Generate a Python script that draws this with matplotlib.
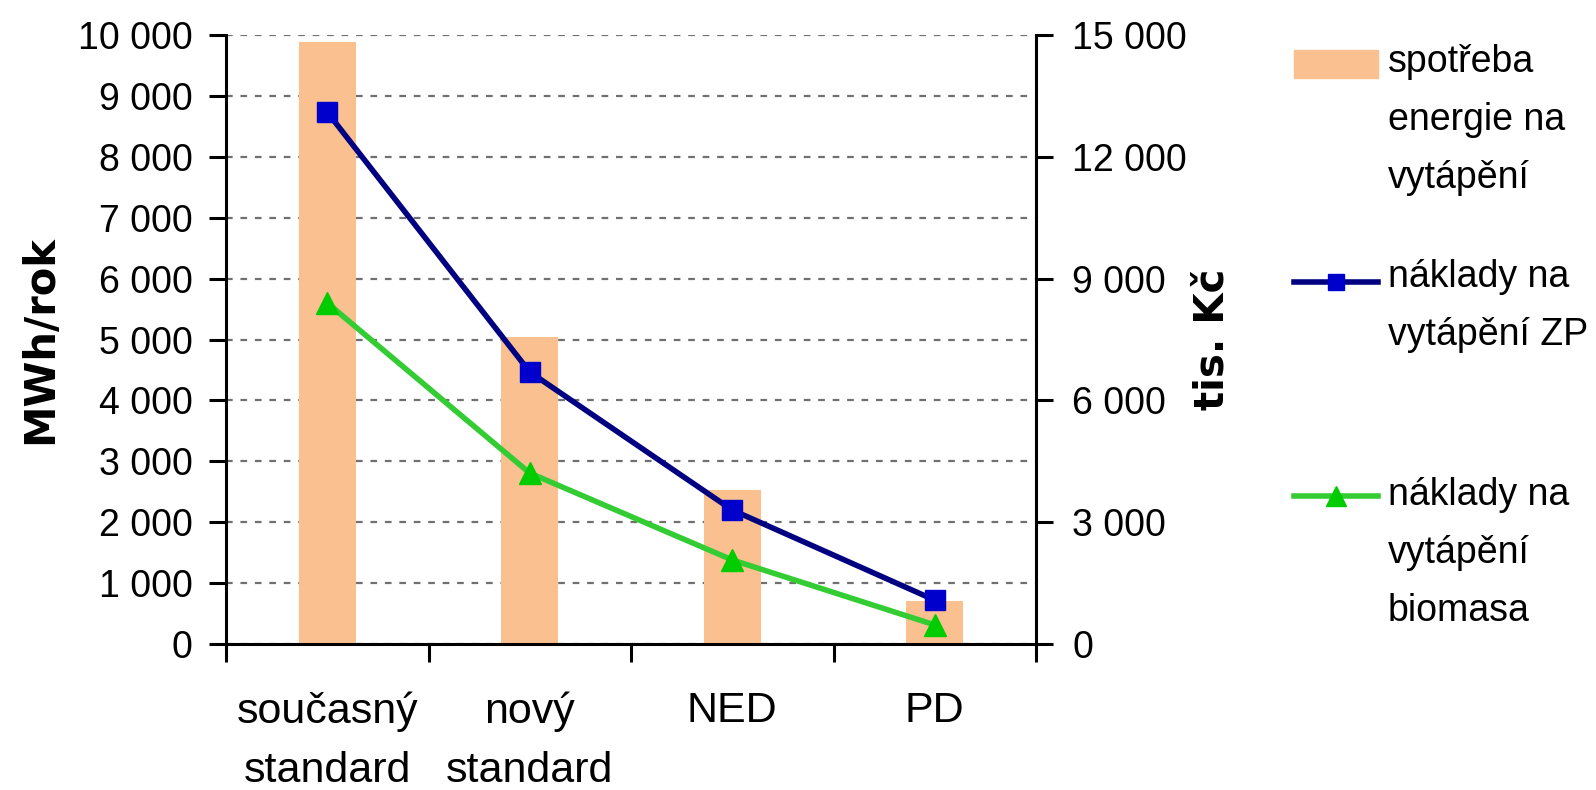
import matplotlib
matplotlib.use("Agg")
import matplotlib.pyplot as plt
from matplotlib.patches import Rectangle
from matplotlib.ticker import FuncFormatter, MultipleLocator
import numpy as np

# data
categories = ["současný\nstandard", "nový\nstandard", "NED", "PD"]
spotreba = [9880, 5040, 2530, 700]        # MWh/rok (left axis)
naklady_zp = [13100, 6700, 3300, 1080]    # tis. Kč (right axis)
naklady_bio = [8400, 4210, 2070, 470]     # tis. Kč (right axis)

legend_labels = ["spotřeba\nenergie na\nvytápění",
                 "náklady na\nvytápění ZP",
                 "náklady na\nvytápění\nbiomasa"]

bar_color = "#FAC090"
zp_line, zp_marker = "#000080", "#0000CC"
bio_line, bio_marker = "#33CC33", "#00CC00"

plt.rcParams['font.family'] = ['Liberation Sans', 'DejaVu Sans']

W, H = 1596, 790
fig = plt.figure(figsize=(W / 100, H / 100), dpi=100)
ax = fig.add_axes([226 / W, 146 / H, 810 / W, 609 / H])

x = np.arange(len(categories))
ax.bar(x, spotreba, width=0.28, color=bar_color, zorder=2)
ax.set_xlim(-0.5, 3.5)
ax.set_ylim(0, 10000)

fmt = FuncFormatter(lambda v, p: f"{int(v):,}".replace(",", " "))
ax.yaxis.set_major_locator(MultipleLocator(1000))
ax.yaxis.set_major_formatter(fmt)
ax.grid(axis='y', color='#707070', linestyle=(0, (3, 3.5)), linewidth=1.6)
ax.set_axisbelow(True)

# category boundaries get the ticks, labels sit in between
ax.set_xticks(np.arange(-0.5, 4, 1))
ax.set_xticklabels([])
ax.set_xticks(x, minor=True)
ax.set_xticklabels(categories, minor=True, fontsize=31, linespacing=1.63,
                   family=['Liberation Sans Narrow', 'Liberation Sans'])
ax.tick_params(axis='x', which='major', direction='out', length=13, width=2.2)
ax.tick_params(axis='x', which='minor', length=0, pad=34)
ax.tick_params(axis='y', direction='out', length=12, width=2.2, labelsize=27, pad=12)

for s in ['left', 'bottom']:
    ax.spines[s].set_linewidth(2.2)
ax.spines['top'].set_visible(False)
ax.spines['right'].set_visible(False)
ax.set_ylabel("MWh/rok", family='DejaVu Sans', fontweight='bold', fontsize=30, labelpad=12)

ax2 = ax.twinx()
ax2.set_ylim(0, 15000)
ax2.yaxis.set_major_locator(MultipleLocator(3000))
ax2.yaxis.set_major_formatter(fmt)
ax2.tick_params(axis='y', direction='out', length=12, width=2.2, labelsize=27, pad=14)
for s in ['left', 'bottom', 'top']:
    ax2.spines[s].set_visible(False)
ax2.spines['right'].set_linewidth(2.2)
ax2.set_ylabel("tis. Kč", family='DejaVu Sans', fontweight='bold', fontsize=29,
               rotation=90, labelpad=4)

ax2.plot(x, naklady_zp, color=zp_line, lw=4, marker='s', ms=14,
         mfc=zp_marker, mec=zp_marker, zorder=3)
ax2.plot(x, naklady_bio, color=bio_line, lw=4, marker='^', ms=16,
         mfc=bio_marker, mec=bio_marker, zorder=3)

# legend drawn by hand so the key sits next to the first text line
lax = fig.add_axes([0, 0, 1, 1])
lax.set_xlim(0, W)
lax.set_ylim(H, 0)
lax.axis('off')
lax.add_patch(Rectangle((1294, 50), 84, 28, color=bar_color))
lax.plot([1294, 1336, 1378], [282] * 3, color=zp_line, lw=4, marker='s', ms=12,
         markevery=[1], mfc=zp_marker, mec=zp_marker)
lax.plot([1294, 1336, 1378], [496] * 3, color=bio_line, lw=4, marker='^', ms=14,
         markevery=[1], mfc=bio_marker, mec=bio_marker)
for label, ytop in zip(legend_labels, [44, 259, 477]):
    lax.text(1388, ytop, label, fontsize=27, va='top', ha='left', linespacing=1.78)

fig.savefig("out.png", dpi=100)
